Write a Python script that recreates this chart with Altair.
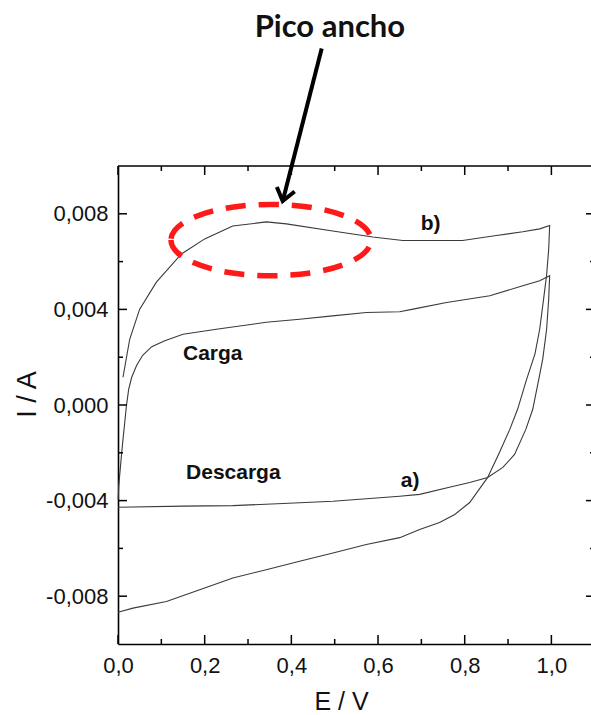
import altair as alt
import pandas as pd

# Curve b): forward (charge) sweep, then reverse sweep back to 0 V
b_E = [0.0115, 0.027, 0.050, 0.0886, 0.1463, 0.200, 0.2647, 0.3424, 0.3886, 0.4954,
       0.5877, 0.657, 0.719, 0.795, 0.873, 0.934, 0.973, 0.996,
       0.9938, 0.989, 0.982, 0.973, 0.962, 0.943, 0.922, 0.904, 0.878, 0.853,
       0.8115, 0.777, 0.742, 0.696, 0.650, 0.573, 0.496, 0.419, 0.342, 0.265,
       0.1885, 0.1117, 0.0346, 0.0]
b_I = [0.00116, 0.00275, 0.00401, 0.00514, 0.00632, 0.00695, 0.00749, 0.00766, 0.00758, 0.00728,
       0.00703, 0.00688, 0.00688, 0.00688, 0.00709, 0.00725, 0.00737, 0.00751,
       0.00653, 0.00544, 0.00443, 0.00317, 0.00213, 0.00108, -0.00018, -0.00102, -0.00207, -0.00303,
       -0.00408, -0.00458, -0.00492, -0.00521, -0.00555, -0.00584, -0.00619, -0.00654, -0.00689, -0.00724,
       -0.00773, -0.00822, -0.00850, -0.00867]

# Curve a): forward (charge) sweep, then reverse (discharge) sweep
a_E = [0.0005, 0.0016, 0.0078, 0.0115, 0.0155, 0.0194, 0.0247, 0.0316, 0.0431, 0.057,
       0.0778, 0.1078, 0.150, 0.227, 0.342, 0.419, 0.495, 0.573, 0.650, 0.681,
       0.758, 0.858, 0.934, 0.973, 0.996,
       0.9938, 0.989, 0.980, 0.971, 0.957, 0.941, 0.915, 0.888, 0.853, 0.8115,
       0.772, 0.696, 0.650, 0.496, 0.381, 0.265, 0.150, 0.0]
a_I = [-0.00395, -0.00341, -0.00214, -0.00144, -0.00074, -0.00004, 0.00066, 0.00116, 0.00166, 0.00208,
       0.00244, 0.00269, 0.00296, 0.00317, 0.00346, 0.00359, 0.00373, 0.00387, 0.00390, 0.00401,
       0.00429, 0.00457, 0.00499, 0.00520, 0.00541,
       0.00443, 0.00317, 0.00192, 0.00108, -0.00018, -0.00102, -0.00207, -0.00261, -0.00303, -0.00324,
       -0.00341, -0.00374, -0.00382, -0.00403, -0.00412, -0.00421, -0.00423, -0.00428]

x_major = [0.0, 0.2, 0.4, 0.6, 0.8, 1.0]
x_minor = [0.1, 0.3, 0.5, 0.7, 0.9]
y_major = [-0.008, -0.004, 0.0, 0.004, 0.008]
y_minor = [-0.006, -0.002, 0.002, 0.006]

# Annotation labels
left_text = ["Carga", "Descarga"]
left_E = [0.150, 0.157]
left_I = [0.00188, -0.00311]
curve_tag = ["b)", "a)"]
tag_E = [0.7215, 0.674]
tag_I = [0.00732, -0.00343]

peak_text = "Pico ancho"
peak_E, peak_I = 0.489, 0.01540
arrow_E, arrow_I = 0.470, 0.01492      # arrow tail
tip_E, tip_I = 0.380, 0.00853          # arrow head
oval_E, oval_I = 0.353, 0.00690        # centre of the highlighted region

W, H = 473, 478
RIGHT_EDGE = W + 4                     # frame's right side lies just past the visible area
X_DOM = [0.0, 1.0914]
Y_DOM = [-0.010, 0.010]
FONT = "Liberation Sans"
MAJOR, MINOR = 9, 5

rows = []
for name, es, js in (("b", b_E, b_I), ("a", a_E, a_I)):
    for k, (e, i) in enumerate(zip(es, js)):
        rows.append({"curve": name, "seq": k, "E": e, "I": i})
curves = pd.DataFrame(rows)

xs = alt.Scale(domain=X_DOM, nice=False, zero=False)
ys = alt.Scale(domain=Y_DOM, nice=False, zero=False)

x_fmt = "replace(format(datum.value, '.1f'), '.', ',')"
y_fmt = "(datum.value < 0 ? '-' : '') + replace(format(abs(datum.value), '.3f'), '.', ',')"

x_main = alt.Axis(orient="bottom", values=x_major, labelExpr=x_fmt, ticks=False,
                  domain=True, domainColor="black", domainWidth=1.6, grid=False,
                  labelFont=FONT, labelFontSize=22, labelColor="#111", labelPadding=11,
                  labelFlush=False, labelOverlap=False,
                  title="E / V", titleFont=FONT, titleFontSize=25, titleFontWeight="normal",
                  titleColor="#111", titleX=223, titleY=65, titleBaseline="alphabetic",
                  titleAlign="center")
y_main = alt.Axis(orient="left", values=y_major, labelExpr=y_fmt, ticks=False,
                  domain=True, domainColor="black", domainWidth=1.6, grid=False,
                  labelFont=FONT, labelFontSize=22, labelColor="#111", labelPadding=10,
                  labelFlush=False, labelOverlap=False,
                  title="I / A", titleFont=FONT, titleFontSize=27, titleFontWeight="normal",
                  titleColor="#111", titleX=-83, titleY=228, titleBaseline="alphabetic",
                  titleAlign="center", titleAngle=270)

lines = alt.Chart(curves).mark_line(color="#3a3a3a", strokeWidth=1.1).encode(
    x=alt.X("E:Q", scale=xs, axis=x_main),
    y=alt.Y("I:Q", scale=ys, axis=y_main),
    detail="curve:N",
    order="seq:Q",
)


def x_ticks(values, y0, y1):
    """Inward tick marks along a horizontal frame side."""
    return alt.Chart(pd.DataFrame({"E": values})).mark_rule(color="black", strokeWidth=1.5).encode(
        x=alt.X("E:Q", scale=xs, axis=None),
        y=alt.value(y0), y2=alt.value(y1),
    )


def y_ticks(values, x0, x1):
    """Inward tick marks along a vertical frame side."""
    return alt.Chart(pd.DataFrame({"I": values})).mark_rule(color="black", strokeWidth=1.5).encode(
        y=alt.Y("I:Q", scale=ys, axis=None),
        x=alt.value(x0), x2=alt.value(x1),
    )


frame_top = alt.Chart(pd.DataFrame({"k": [0]})).mark_rule(color="black", strokeWidth=1.6).encode(
    x=alt.value(0), x2=alt.value(RIGHT_EDGE), y=alt.value(0),
)

ticks = [
    x_ticks(x_major, H, H - MAJOR), x_ticks(x_minor, H, H - MINOR),
    x_ticks(x_major, 0, MAJOR), x_ticks(x_minor, 0, MINOR),
    y_ticks(y_major, 0, MAJOR), y_ticks(y_minor, 0, MINOR),
    y_ticks(y_major, RIGHT_EDGE, RIGHT_EDGE - MAJOR), y_ticks(y_minor, RIGHT_EDGE, RIGHT_EDGE - MINOR),
]

oval = alt.Chart(pd.DataFrame({"E": [oval_E], "I": [oval_I]})).mark_point(
    shape="M -1 0 A 1 0.357 0 1 0 1 0 A 1 0.357 0 1 0 -1 0 Z",
    size=40000, filled=False, color="#FF1A1A", strokeWidth=5.5,
    strokeDash=[20, 13], opacity=1,
).encode(
    x=alt.X("E:Q", scale=xs, axis=None),
    y=alt.Y("I:Q", scale=ys, axis=None),
)

text_left = alt.Chart(pd.DataFrame({"text": left_text, "E": left_E, "I": left_I})).mark_text(
    font=FONT, fontSize=21, fontWeight="bold", color="#111", baseline="alphabetic", align="left",
).encode(
    x=alt.X("E:Q", scale=xs, axis=None),
    y=alt.Y("I:Q", scale=ys, axis=None),
    text="text:N",
)

text_center = alt.Chart(pd.DataFrame({"text": curve_tag, "E": tag_E, "I": tag_I})).mark_text(
    font=FONT, fontSize=21, fontWeight="bold", color="#111", baseline="alphabetic", align="center",
).encode(
    x=alt.X("E:Q", scale=xs, axis=None),
    y=alt.Y("I:Q", scale=ys, axis=None),
    text="text:N",
)

shaft = alt.Chart(pd.DataFrame({"E": [arrow_E], "I": [arrow_I], "E2": [tip_E], "I2": [tip_I]})).mark_rule(
    color="black", strokeWidth=4,
).encode(
    x=alt.X("E:Q", scale=xs, axis=None),
    y=alt.Y("I:Q", scale=ys, axis=None),
    x2="E2:Q",
    y2="I2:Q",
)

head = alt.Chart(pd.DataFrame({"E": [tip_E], "I": [tip_I]})).mark_point(
    shape="M -0.75 -1 L 0 0 L 0.75 -1", size=600, filled=False, color="black",
    strokeWidth=4, angle=14.4, opacity=1,
).encode(
    x=alt.X("E:Q", scale=xs, axis=None),
    y=alt.Y("I:Q", scale=ys, axis=None),
)

peak = alt.Chart(pd.DataFrame({"text": [peak_text], "E": [peak_E], "I": [peak_I]})).mark_text(
    font="Lato", fontSize=31, fontWeight="bold", color="#111", baseline="alphabetic", align="center",
).encode(
    x=alt.X("E:Q", scale=xs, axis=None),
    y=alt.Y("I:Q", scale=ys, axis=None),
    text="text:N",
)

chart = alt.layer(lines, frame_top, *ticks, oval, text_left, text_center, shaft, head, peak).resolve_axis(
    x="independent", y="independent"
).properties(
    width=W, height=H,
    background="white",
    autosize=alt.AutoSizeParams(type="none"),
    padding={"left": 118, "top": 166, "right": 0, "bottom": 71},
).configure_view(stroke=None)

chart.save("out.html", embed_options={"renderer": "svg", "actions": False})
